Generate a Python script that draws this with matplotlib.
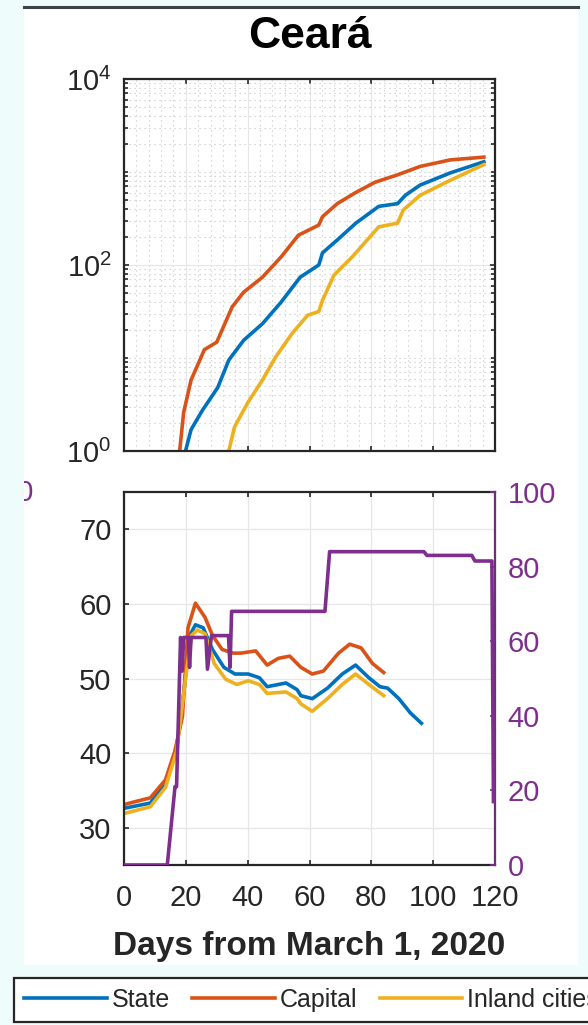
import numpy as np
import matplotlib

matplotlib.use("Agg")
import matplotlib.pyplot as plt
from matplotlib.ticker import FixedLocator, NullFormatter

plt.rcParams['font.family'] = ['Liberation Sans', 'DejaVu Sans']
plt.rcParams['mathtext.fontset'] = 'custom'
plt.rcParams['mathtext.rm'] = 'Liberation Sans'
plt.rcParams['mathtext.it'] = 'Liberation Sans'

# 颜色（MATLAB 默认色）
C_STATE = '#0072BD'
C_CAP = '#D95319'
C_IN = '#EDB120'
C_PUR = '#7E2F8E'
C_TXT = '#262626'

# 上图：累计值（对数坐标）
state_day = [19.9, 21.7, 25.4, 30.3, 33.9, 38.7, 44.8, 50.8, 57, 63, 64.2, 69, 75, 82.4, 88.5, 91, 95.8, 105.5, 116.4]
state_cum = [1, 1.7, 2.75, 4.8, 9.5, 15.5, 23.4, 39.8, 74, 100, 135, 186, 282, 427, 457, 562, 724, 977, 1288]
cap_day = [18, 19.3, 21.7, 26, 30, 35, 38.7, 44.8, 50.9, 56.4, 63, 64.2, 69, 75, 81.2, 88.5, 95.8, 105.5, 116.4]
cap_cum = [1, 2.6, 5.8, 12.3, 14.8, 35.5, 51, 74, 123, 209, 269, 331, 457, 603, 776, 933, 1148, 1349, 1445]
in_day = [33.9, 35.7, 40, 44.8, 49, 54.5, 59.4, 63, 64.2, 67.9, 73.9, 82.4, 88.5, 90.3, 95.8, 105.5, 116.4]
in_cum = [1, 1.8, 3.3, 5.8, 10.2, 18.6, 28.8, 31.6, 41.7, 77.6, 123, 257, 282, 389, 562, 813, 1202]

# 下图：左轴
state_d2 = [0, 8.5, 13.4, 17, 19.5, 21.3, 23.1, 25.6, 28.6, 32.3, 35.9, 40.2, 43.8, 46.3, 52.4, 56,
            57.2, 60.9, 65.8, 70.6, 74.9, 79.2, 82.8, 85.3, 88.9, 92.6, 96.2]
state_v2 = [32.6, 33.3, 35.9, 40.6, 48.7, 55.8, 57.2, 56.8, 53.9, 51.5, 50.6, 50.6, 50.1, 48.9, 49.4, 48.5,
            47.7, 47.3, 48.7, 50.6, 51.8, 50.1, 48.9, 48.7, 47.3, 45.4, 44.0]
cap_d2 = [0, 3.7, 8.5, 13.4, 16.4, 18.9, 20.7, 23.1, 26.2, 28.6, 31.7, 35.3, 37.8, 42.6, 46.3, 49.9,
          53.6, 57.2, 60.9, 64.5, 69.4, 73, 76.7, 80.4, 84]
cap_v2 = [33.1, 33.5, 34.0, 36.4, 40.2, 44.9, 56.8, 60.1, 58.2, 55.8, 53.9, 53.4, 53.4, 53.7, 51.8, 52.7,
          53.0, 51.5, 50.6, 51.0, 53.4, 54.6, 54.1, 52.0, 50.8]
in_d2 = [0, 8.5, 13.4, 17, 20.1, 21.9, 23.7, 26.2, 29.2, 32.9, 36.5, 40.2, 43.8, 46.3, 52.4, 56,
         57.2, 60.9, 65.8, 70.6, 74.9, 79.2, 84]
in_v2 = [31.9, 32.8, 35.4, 40.2, 50.6, 55.8, 56.5, 56.0, 52.0, 49.9, 49.2, 49.7, 49.2, 48.0, 48.2, 47.3,
         46.6, 45.6, 47.3, 49.2, 50.6, 49.2, 47.7]

# 下图：右轴（紫色）
pur_day = [0, 14, 16.5, 17, 18.3, 18.8, 19.3, 20.8, 21.2, 21.7, 26.5, 27, 28.3, 33.8, 34.3, 34.8,
           65, 66.5, 97, 98, 112.5, 113.5, 119, 119.5]
pur_val = [0, 0, 21, 21, 61, 52, 61, 61, 53, 61, 61, 52.5, 61.5, 61.5, 53, 68,
           68, 84, 84, 83, 83, 81.5, 81.5, 17]

W, H = 588, 1025
fig = plt.figure(figsize=(W / 100, H / 100), dpi=100)
fig.patch.set_facecolor('#eefcfc')

# 白色底板
bg = fig.add_axes([24 / W, 1 - 965 / H, 554 / W, (965 - 7) / H], zorder=-5)
bg.set_facecolor('white')
bg.set_xticks([])
bg.set_yticks([])
for s in ['left', 'right', 'bottom']:
    bg.spines[s].set_visible(False)
bg.spines['top'].set_linewidth(2.2)
bg.spines['top'].set_color('#3c4248')
bg.set_xlim(0, 554)
bg.set_ylim(0, 958)
bg.text(34 - 24, 958 - 486, '100', color=C_PUR, fontsize=21, ha='right', va='center', clip_on=True)

TICK_FS = 21
LW = 2.6


def style_axes(ax):
    ax.tick_params(direction='in', which='both', top=True, labelsize=TICK_FS, colors=C_TXT,
                   width=1.2, pad=9)
    for s in ax.spines.values():
        s.set_color(C_TXT)
        s.set_linewidth(1.6)


# 上图
ax1 = fig.add_axes([124 / W, 1 - 451 / H, 371 / W, 372 / H])
ax1.plot(state_day, state_cum, color=C_STATE, lw=LW)
ax1.plot(cap_day, cap_cum, color=C_CAP, lw=LW)
ax1.plot(in_day, in_cum, color=C_IN, lw=LW)
ax1.set_yscale('log')
ax1.set_ylim(1, 1e4)
ax1.set_xlim(0, 120)
ax1.set_xticks(np.arange(0, 121, 20))
ax1.xaxis.set_minor_locator(FixedLocator(np.arange(0, 121, 4)))
ax1.set_xticklabels([])
ax1.set_yticks([1, 100, 1e4])
minor_y = [m * 10 ** e for e in range(4) for m in range(1, 10) if m * 10 ** e not in (1, 100)]
ax1.yaxis.set_minor_locator(FixedLocator(minor_y))
ax1.yaxis.set_minor_formatter(NullFormatter())
style_axes(ax1)
ax1.tick_params(right=True)
ax1.tick_params(which='minor', length=3, right=True, top=False, bottom=False)
ax1.grid(True, which='major', color='#e6e6e6', lw=0.8)
ax1.grid(True, which='minor', color='#c4c4c4', lw=0.8, ls=(0, (1, 3.5)))
ax1.set_axisbelow(True)
ax1.set_title('Ceará', fontsize=32, fontweight='bold', color='black', pad=22)

# 下图
ax2 = fig.add_axes([124 / W, 1 - 865 / H, 371 / W, 373 / H])
l1, = ax2.plot(state_d2, state_v2, color=C_STATE, lw=LW, label='State')
l2, = ax2.plot(cap_d2, cap_v2, color=C_CAP, lw=LW, label='Capital')
l3, = ax2.plot(in_d2, in_v2, color=C_IN, lw=LW, label='Inland cities')
ax2.set_xlim(0, 120)
ax2.set_ylim(25, 75)
ax2.set_xticks(np.arange(0, 121, 20))
ax2.set_yticks(np.arange(30, 71, 10))
style_axes(ax2)
ax2.tick_params(axis='x', pad=14)
ax2.grid(True, color='#e6e6e6', lw=0.9)
ax2.set_axisbelow(True)
ax2.set_xlabel('Days from March 1, 2020', fontsize=24, fontweight='bold', color=C_TXT, labelpad=13)

ax3 = ax2.twinx()
ax3.plot(pur_day, pur_val, color=C_PUR, lw=LW)
ax3.set_ylim(0, 100)
ax3.set_yticks(np.arange(0, 101, 20))
ax3.tick_params(direction='in', labelsize=TICK_FS, colors=C_PUR, width=1.2, pad=9)
ax3.spines['right'].set_color(C_PUR)
ax3.spines['right'].set_linewidth(1.2)
for s in ['left', 'top', 'bottom']:
    ax3.spines[s].set_visible(False)

# 图例
leg = fig.legend([l1, l2, l3], ['State', 'Capital', 'Inland cities'], ncol=3,
                 loc='lower left', bbox_to_anchor=(14 / W, 3 / H), borderaxespad=0,
                 fontsize=18, frameon=True, fancybox=False, framealpha=1,
                 edgecolor=C_TXT, handlelength=3.3, handletextpad=0.2,
                 columnspacing=0.9, borderpad=0.4)
leg.get_frame().set_linewidth(1.6)
for t in leg.get_texts():
    t.set_color(C_TXT)

fig.savefig('out.png', dpi=100, facecolor=fig.get_facecolor())
